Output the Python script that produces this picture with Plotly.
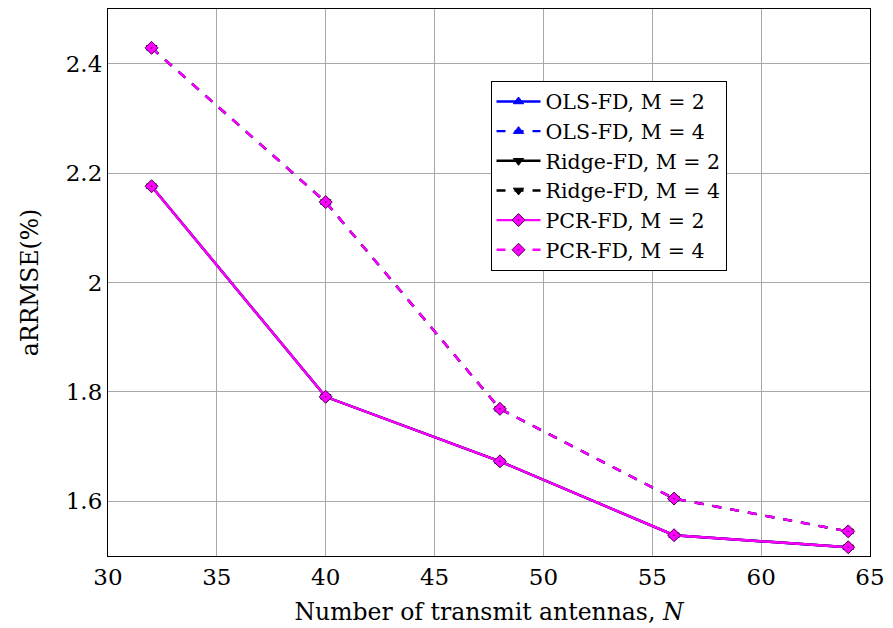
import plotly.graph_objects as go

# Number of transmit antennas
antennas = [32, 40, 48, 56, 64]

# aRRMSE (%) per estimator and subarray count M
ols_m2 = [2.176, 1.791, 1.673, 1.538, 1.516]
ols_m4 = [2.429, 2.147, 1.769, 1.605, 1.545]
ridge_m2 = [2.176, 1.791, 1.673, 1.538, 1.516]
ridge_m4 = [2.429, 2.147, 1.769, 1.605, 1.545]
pcr_m2 = [2.176, 1.791, 1.673, 1.538, 1.516]
pcr_m4 = [2.429, 2.147, 1.769, 1.605, 1.545]

x_ticks = [30, 35, 40, 45, 50, 55, 60, 65]
y_ticks = [1.6, 1.8, 2.0, 2.2, 2.4]
y_tick_text = ["1.6", "1.8", "2", "2.2", "2.4"]

FONT = "DejaVu Serif, Liberation Serif, serif"

series = [
    ("OLS-FD, M = 2", ols_m2, "#0000ff", "solid", "triangle-up", 9),
    ("OLS-FD, M = 4", ols_m4, "#0000ff", "dash", "triangle-up", 9),
    ("Ridge-FD, M = 2", ridge_m2, "#000000", "solid", "triangle-down", 9),
    ("Ridge-FD, M = 4", ridge_m4, "#000000", "dash", "triangle-down", 9),
    ("PCR-FD, M = 2", pcr_m2, "#ff00ff", "solid", "diamond-dot", 10),
    ("PCR-FD, M = 4", pcr_m4, "#ff00ff", "dash", "diamond-dot", 10),
]

fig = go.Figure()
for name, vals, color, dash, symbol, size in series:
    fig.add_trace(go.Scatter(
        x=antennas, y=vals, name=name, mode="lines+markers",
        line=dict(color=color, width=2.4, dash=dash),
        marker=dict(symbol=symbol, size=size, color=color,
                    line=dict(color="#4a004a" if color == "#ff00ff" else color, width=1)),
    ))

axis_common = dict(
    showgrid=True, gridcolor="#a8a8a8", gridwidth=1,
    showline=True, linecolor="black", linewidth=1.2, mirror=True,
    ticks="", zeroline=False,
    tickfont=dict(family=FONT, size=23, color="black"),
)

fig.update_layout(
    width=893, height=628,
    margin=dict(l=108, r=15, t=8, b=72),
    plot_bgcolor="white", paper_bgcolor="white",
    font=dict(family=FONT, size=23, color="black"),
    xaxis=dict(
        range=[30, 65], tickvals=x_ticks,
        title=dict(text="Number of transmit antennas, <i>N</i>",
                   font=dict(family=FONT, size=23.5), standoff=14),
        **axis_common,
    ),
    yaxis=dict(
        range=[1.5, 2.5], tickvals=y_ticks, ticktext=y_tick_text,
        title=dict(text="aRRMSE(%)", font=dict(family=FONT, size=23.5), standoff=20),
        **axis_common,
    ),
    legend=dict(
        x=0.502, y=0.869, xanchor="left", yanchor="top",
        bgcolor="white", bordercolor="black", borderwidth=1,
        font=dict(family=FONT, size=20.5), itemwidth=44,
        tracegroupgap=0,
    ),
)

fig.write_html("out.html")
